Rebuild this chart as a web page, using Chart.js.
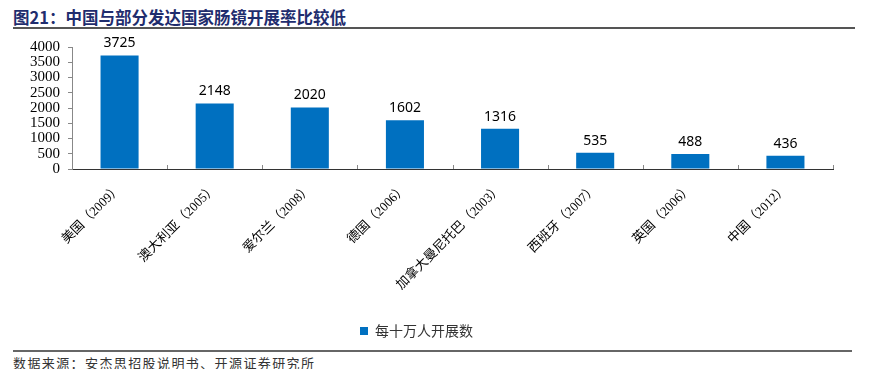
<!DOCTYPE html>
<html><head><meta charset="utf-8">
<script src="https://cdn.jsdelivr.net/npm/chart.js@4/dist/chart.umd.min.js"></script>
<style>
html,body{margin:0;padding:0;background:#fff;}
#wrap{position:relative;width:879px;height:369px;overflow:hidden;}
#title{position:absolute;left:13px;top:5px;font:bold 16.5px "Noto Sans CJK SC",sans-serif;color:#1F2D6E;white-space:nowrap;}
#tline{position:absolute;left:13px;top:27px;width:842px;height:2px;background:#555;}
#bline{position:absolute;left:13px;top:350px;width:839px;height:2px;background:#666;}
#src{position:absolute;left:13px;top:353px;font:13px "Noto Sans CJK SC",sans-serif;color:#333;white-space:nowrap;letter-spacing:1.4px;}
#cv{position:absolute;left:0;top:30px;}
</style></head>
<body><div id="wrap">
<div id="title">图21：中国与部分发达国家肠镜开展率比较低</div>
<div id="tline"></div>
<canvas id="cv" width="879" height="318"></canvas>
<div id="bline"></div>
<div id="src">数据来源：安杰思招股说明书、开源证券研究所</div>
</div>
<script>
const categories = ["美国（2009）","澳大利亚（2005）","爱尔兰（2008）","德国（2006）","加拿大曼尼托巴（2003）","西班牙（2007）","英国（2006）","中国（2012）"];
const seriesName = "每十万人开展数";
const values = [3725, 2148, 2020, 1602, 1316, 535, 488, 436];
const yTicks = [0, 500, 1000, 1500, 2000, 2500, 3000, 3500, 4000];

const labelPlugin = {
  id: 'valLabels',
  afterDatasetsDraw(chart) {
    const ctx = chart.ctx;
    const meta = chart.getDatasetMeta(0);
    ctx.save();
    ctx.font = '14px "Noto Sans", sans-serif';
    ctx.fillStyle = '#000';
    ctx.textAlign = 'center';
    ctx.textBaseline = 'bottom';
    meta.data.forEach((el, i) => {
      ctx.fillText(String(values[i]), el.x, el.y - 5);
    });
    ctx.restore();
  },
  afterDraw(chart) {
    const xs = chart.scales.x;
    const ctx = chart.ctx;
    const step = xs.getPixelForValue(1) - xs.getPixelForValue(0);
    ctx.save();
    ctx.strokeStyle = '#888';
    ctx.lineWidth = 1;
    for (let i = 1; i <= categories.length; i++) {
      const x = Math.round(xs.getPixelForValue(i) - step / 2) + 0.5;
      ctx.beginPath();
      ctx.moveTo(x, xs.top);
      ctx.lineTo(x, xs.top - 4);
      ctx.stroke();
    }
    ctx.restore();
  }
};

new Chart(document.getElementById('cv'), {
  type: 'bar',
  data: {
    labels: categories,
    datasets: [{
      label: seriesName,
      data: values,
      backgroundColor: '#0070C0',
      borderWidth: 0,
      categoryPercentage: 1.0,
      barPercentage: 0.4
    }]
  },
  options: {
    responsive: false,
    animation: false,
    layout: { padding: { top: 16, left: 0, right: 46, bottom: 0 } },
    plugins: {
      legend: {
        position: 'bottom',
        labels: {
          boxWidth: 8, boxHeight: 8, padding: 10,
          color: '#333',
          font: { family: '"Noto Sans CJK SC", sans-serif', size: 14 }
        }
      },
      tooltip: { enabled: false }
    },
    scales: {
      x: {
        grid: { display: false },
        border: { display: true, color: '#333', width: 1 },
        ticks: {
          minRotation: 45, maxRotation: 45, autoSkip: false, padding: 4,
          color: '#000',
          font: { family: '"Liberation Serif", "Noto Sans CJK SC", serif', size: 13 }
        },
        afterFit(s) { s.height = 145; }
      },
      y: {
        min: 0, max: 4000,
        afterBuildTicks(s) { s.ticks = yTicks.map(v => ({ value: v })); },
        grid: { drawOnChartArea: false, drawTicks: true, tickLength: 4, color: '#888' },
        border: { display: true, color: '#888', width: 1 },
        ticks: {
          autoSkip: false, padding: 8, color: '#000',
          callback: (v) => String(v),
          font: { family: '"Liberation Serif", serif', size: 15 }
        },
        afterFit(s) { s.width = 72; }
      }
    }
  },
  plugins: [labelPlugin]
});
</script>
</body></html>
